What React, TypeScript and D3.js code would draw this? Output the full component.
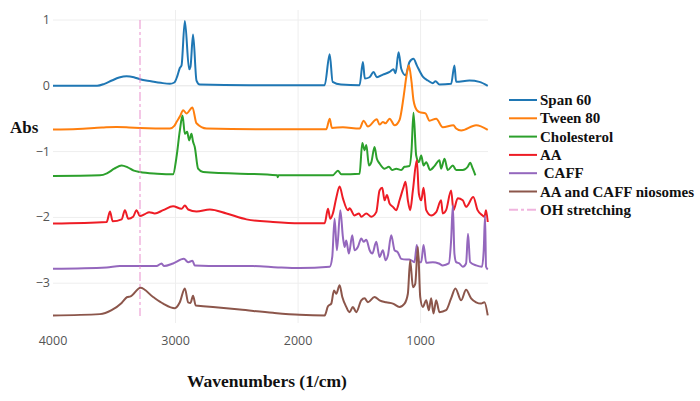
import { useEffect, useRef } from 'react';
import * as d3 from 'd3';

type Pt = [number, number];

// [wavenumber (1/cm), absorbance]
const span60: Pt[] = [
  [4000, 0], [3640, 0], [3580, 0.03], [3520, 0.08], [3460, 0.125], [3400, 0.145], [3340, 0.13],
  [3291, 0.1], [3200, 0.07], [3120, 0.045], [3046, 0.03], [3010, 0.05],
  [2985, 0.15], [2965, 0.27], [2951, 0.31], [2924, 0.985], [2889, 0.25], [2878, 0.29],
  [2857, 0.78], [2829, 0.08], [2802, 0.02], [2400, 0.01], [1783, 0.01], [1742, 0.48],
  [1718, 0.06], [1650, 0.02], [1498, 0.01], [1471, 0.36], [1455, 0.11], [1417, 0.13],
  [1384, 0.21], [1357, 0.13], [1308, 0.17], [1253, 0.21], [1221, 0.25], [1204, 0.19],
  [1180, 0.51], [1158, 0.26], [1123, 0.16], [1091, 0.36], [1058, 0.41], [1031, 0.31],
  [982, 0.14], [941, 0.08], [900, 0.04], [878, 0.07], [846, 0.02], [751, 0.03], [724, 0.31],
  [710, 0.06], [601, 0.08], [520, 0.06], [452, 0.0],
];

const tween80: Pt[] = [
  [4000, -0.666], [3800, -0.655], [3600, -0.635], [3481, -0.626], [3380, -0.632], [3291, -0.64],
  [3046, -0.65], [3010, -0.61], [2992, -0.55], [2960, -0.45],
  [2938, -0.37], [2911, -0.42], [2862, -0.33], [2829, -0.57], [2747, -0.65], [2200, -0.66],
  [1770, -0.66], [1742, -0.5], [1724, -0.64], [1634, -0.63], [1498, -0.65], [1465, -0.53],
  [1430, -0.62], [1357, -0.51], [1335, -0.59], [1308, -0.55], [1286, -0.57], [1253, -0.5],
  [1212, -0.6], [1172, -0.52], [1139, -0.17], [1117, 0.13], [1096, 0.31], [1074, 0.06],
  [1058, -0.22], [1031, -0.37], [1009, -0.4], [960, -0.42], [927, -0.53], [873, -0.5],
  [819, -0.63], [732, -0.6], [710, -0.65], [669, -0.68], [547, -0.6], [452, -0.67],
];

const cholesterol: Pt[] = [
  [4000, -1.37], [3617, -1.36], [3560, -1.33], [3500, -1.26], [3440, -1.21], [3390, -1.24],
  [3340, -1.29], [3291, -1.31], [3150, -1.335],
  [3020, -1.345], [2992, -1.08], [2965, -0.68], [2943, -0.45], [2924, -0.73], [2905, -0.7],
  [2889, -0.83], [2870, -0.73], [2857, -0.85], [2843, -0.93], [2816, -1.26], [2775, -1.31],
  [2170, -1.36], [2166, -1.39], [2160, -1.36], [1718, -1.36], [1675, -1.29], [1647, -1.345],
  [1498, -1.335], [1476, -0.87], [1457, -0.98], [1443, -0.9], [1422, -1.21], [1402, -1.16],
  [1376, -0.93], [1357, -1.11], [1335, -1.18], [1294, -1.26], [1259, -1.23], [1232, -1.28],
  [1199, -1.26], [1158, -1.28], [1131, -1.23], [1091, -1.22], [1074, -0.98], [1058, -0.41],
  [1036, -1.06], [1014, -1.16], [995, -1.06], [976, -1.21], [954, -1.16], [922, -1.28],
  [887, -1.22], [846, -1.13], [833, -1.26], [805, -1.11], [778, -1.28], [737, -1.21],
  [710, -1.28], [656, -1.28], [615, -1.23], [596, -1.17], [574, -1.26], [553, -1.36],
];

const aa: Pt[] = [
  [4000, -2.094], [3562, -2.07], [3535, -1.91], [3513, -2.06], [3440, -2.03], [3413, -1.89],
  [3386, -2.02], [3346, -1.99], [3318, -1.89], [3291, -1.98], [3250, -1.95], [3215, -1.92],
  [3169, -1.94], [3101, -1.89], [3020, -1.83], [2951, -1.87], [2924, -1.82], [2897, -1.88],
  [2829, -1.91], [2720, -1.88], [2584, -1.94], [2421, -2.03], [2205, -2.07], [1987, -2.09],
  [1783, -2.09], [1756, -1.87], [1737, -2.02], [1716, -1.94], [1688, -1.7], [1661, -1.53],
  [1634, -1.71], [1593, -1.89], [1580, -1.86], [1539, -1.97], [1503, -1.94], [1484, -1.99],
  [1443, -1.94], [1402, -1.99], [1362, -1.92], [1335, -1.59], [1313, -1.55], [1294, -1.74],
  [1275, -1.66], [1253, -1.79], [1226, -1.84], [1199, -1.89], [1172, -1.74], [1139, -1.54],
  [1123, -1.46], [1104, -1.74], [1085, -1.89], [1063, -1.59], [1031, -1.13], [1014, -1.64],
  [995, -1.74], [976, -1.55], [954, -1.89], [914, -1.97], [873, -1.92], [833, -1.74],
  [819, -1.94], [792, -1.89], [751, -1.59], [732, -1.89], [697, -1.71], [656, -1.74],
  [629, -1.84], [570, -1.69], [535, -1.89], [494, -1.97], [479, -1.99], [466, -1.89], [452, -2.07],
];

const caff: Pt[] = [
  [4000, -2.78], [3562, -2.76], [3454, -2.74], [3155, -2.74], [3114, -2.7], [3095, -2.74],
  [3020, -2.7], [2932, -2.63], [2897, -2.68], [2862, -2.66], [2843, -2.73], [2612, -2.74],
  [2367, -2.74], [2164, -2.76], [1987, -2.77], [1742, -2.75], [1721, -2.6], [1702, -2.02],
  [1683, -2.5], [1655, -1.89], [1634, -2.3], [1620, -2.45], [1607, -2.35], [1585, -2.55],
  [1558, -2.27], [1539, -2.5], [1512, -2.45], [1484, -2.32], [1465, -2.37], [1443, -2.34],
  [1416, -2.5], [1394, -2.55], [1362, -2.37], [1335, -2.6], [1308, -2.5], [1286, -2.65],
  [1267, -2.58], [1240, -2.27], [1212, -2.5], [1186, -2.53], [1158, -2.63], [1117, -2.64],
  [1091, -2.64], [1050, -2.68], [1031, -2.42], [1014, -2.68], [995, -2.68], [976, -2.42],
  [954, -2.69], [900, -2.68], [851, -2.7], [819, -2.73], [770, -2.7], [751, -2.35],
  [737, -1.82], [724, -2.55], [710, -2.68], [683, -2.7], [656, -2.75], [629, -2.7],
  [613, -2.25], [596, -2.68], [547, -2.73], [499, -2.75], [485, -2.5], [474, -1.98],
  [466, -2.75], [452, -2.79],
];

const niosomes: Pt[] = [
  [4000, -3.49], [3617, -3.47], [3522, -3.41], [3440, -3.3], [3394, -3.21], [3367, -3.2],
  [3286, -3.07], [3183, -3.21], [3101, -3.31], [3006, -3.38], [2965, -3.29], [2924, -3.08],
  [2897, -3.29], [2878, -3.3], [2857, -3.19], [2835, -3.34], [2775, -3.35], [2476, -3.4],
  [2205, -3.45], [1987, -3.48], [1783, -3.49], [1756, -3.35], [1729, -3.31], [1707, -3.11],
  [1688, -3.16], [1661, -3.03], [1639, -3.21], [1607, -3.36], [1580, -3.44], [1553, -3.36],
  [1525, -3.44], [1484, -3.26], [1457, -3.23], [1430, -3.29], [1376, -3.21], [1335, -3.26],
  [1281, -3.29], [1226, -3.31], [1172, -3.36], [1131, -3.31], [1104, -3.16], [1085, -2.65],
  [1063, -3.06], [1044, -3.01], [1022, -2.45], [1003, -3.21], [982, -3.36], [954, -3.26],
  [933, -3.41], [914, -3.23], [895, -3.46], [873, -3.26], [846, -3.44], [792, -3.41],
  [751, -3.23], [716, -3.08], [669, -3.26], [629, -3.1], [588, -3.23], [547, -3.29],
  [506, -3.31], [479, -3.29], [452, -3.49],
];

const seriesNames = ['Span 60', 'Tween 80', 'Cholesterol', 'AA', ' CAFF', 'AA and CAFF niosomes'];
const seriesData = [span60, tween80, cholesterol, aa, caff, niosomes];
const seriesColors = ['#1f77b4', '#ff7f0e', '#2ca02c', '#ee1c25', '#9467bd', '#8c564b'];

const ohWavenumber = 3290;
const ohRange: [number, number] = [1, -3.5];
const ohLabel = 'OH stretching';

const xTicks = [4000, 3000, 2000, 1000];
const yTicks = [1, 0, -1, -2, -3];

const W = 700;
const H = 401;
const serif = '"Times New Roman", "Liberation Serif", serif';
const sans = '"Open Sans", "Noto Sans", sans-serif';

export default function App() {
  const svgRef = useRef<SVGSVGElement>(null);

  useEffect(() => {
    const svg = d3.select(svgRef.current);
    if (!svg.node()) return;
    svg.selectAll('*').remove();

    const x = d3.scaleLinear().domain([4000, 450]).range([53, 488]);
    const y = d3.scaleLinear().domain([1, -3]).range([20, 283.2]);
    const top = 10;
    const bottom = 323;

    svg.append('rect').attr('width', W).attr('height', H).attr('fill', '#fff');

    const grid = svg.append('g');
    xTicks.filter(t => t !== 4000).forEach(t => {
      grid.append('line')
        .attr('x1', x(t)).attr('x2', x(t))
        .attr('y1', top).attr('y2', bottom)
        .attr('stroke', '#eeeeee').attr('stroke-width', 1);
    });
    yTicks.forEach(t => {
      grid.append('line')
        .attr('x1', x(4000)).attr('x2', x(450))
        .attr('y1', y(t)).attr('y2', y(t))
        .attr('stroke', t === 0 ? '#e4e4e4' : '#eeeeee').attr('stroke-width', 1);
    });

    svg.append('g').selectAll('text').data(xTicks).enter().append('text')
      .attr('x', d => x(d))
      .attr('y', 345)
      .attr('text-anchor', 'middle')
      .style('font-family', sans)
      .style('font-size', '12.5px')
      .style('fill', '#555')
      .text(d => String(d));

    svg.append('g').selectAll('text').data(yTicks).enter().append('text')
      .attr('x', 50)
      .attr('y', d => y(d) + 4)
      .attr('text-anchor', 'end')
      .style('font-family', sans)
      .style('font-size', '12.5px')
      .style('fill', '#555')
      .text(d => (d < 0 ? '\u2212' + Math.abs(d) : String(d)));

    const line = d3.line<Pt>()
      .x(d => x(d[0]))
      .y(d => y(d[1]))
      .curve(d3.curveMonotoneX);

    seriesData.forEach((data, i) => {
      svg.append('path')
        .datum(data)
        .attr('d', line)
        .attr('fill', 'none')
        .attr('stroke', seriesColors[i])
        .attr('stroke-width', 2)
        .attr('stroke-linejoin', 'round');
    });

    svg.append('line')
      .attr('x1', x(ohWavenumber)).attr('x2', x(ohWavenumber))
      .attr('y1', y(ohRange[0])).attr('y2', y(ohRange[1]))
      .attr('stroke', '#e377c2')
      .attr('stroke-opacity', 0.55)
      .attr('stroke-width', 1.5)
      .attr('stroke-dasharray', '9,3,3,3');

    svg.append('text')
      .attr('x', 10).attr('y', 133)
      .style('font-family', serif)
      .style('font-weight', 'bold')
      .style('font-size', '17px')
      .style('fill', '#111')
      .text('Abs');

    svg.append('text')
      .attr('x', 267).attr('y', 387)
      .attr('text-anchor', 'middle')
      .style('font-family', serif)
      .style('font-weight', 'bold')
      .style('font-size', '17.5px')
      .style('fill', '#111')
      .text('Wavenumbers (1/cm)');

    const legend = svg.append('g');
    const rowY = (i: number) => 100 + i * 18.3;
    const labels = [...seriesNames, ohLabel];
    labels.forEach((name, i) => {
      const ly = rowY(i);
      const isOH = i === seriesNames.length;
      legend.append('line')
        .attr('x1', 509).attr('x2', 537)
        .attr('y1', ly).attr('y2', ly)
        .attr('stroke', isOH ? '#e377c2' : seriesColors[i])
        .attr('stroke-opacity', isOH ? 0.55 : 1)
        .attr('stroke-width', 2)
        .attr('stroke-dasharray', isOH ? '9,3,3,3' : null);
      legend.append('text')
        .attr('x', 540).attr('y', ly + 5)
        .attr('xml:space', 'preserve')
        .style('white-space', 'pre')
        .style('font-family', serif)
        .style('font-weight', 'bold')
        .style('font-size', '15px')
        .style('fill', '#111')
        .text(name);
    });
  }, []);

  return (
    <svg
      ref={svgRef}
      width={W}
      height={H}
      style={{ position: 'absolute', left: 0, top: 0, display: 'block' }}
    />
  );
}
